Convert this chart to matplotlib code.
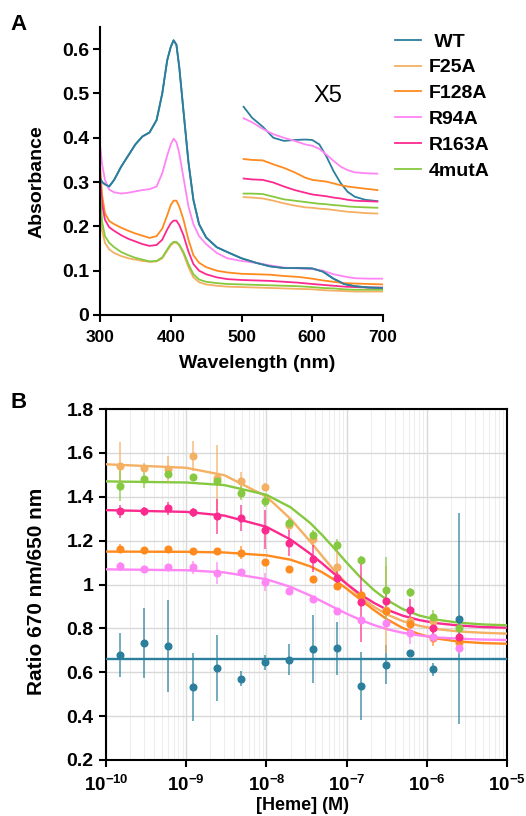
import matplotlib
matplotlib.use('Agg')
import matplotlib.pyplot as plt
from matplotlib.ticker import FixedLocator, LogLocator, NullFormatter

# ---------------- panel A : absorbance spectra ----------------
wavelength = [300, 303, 307, 313, 320, 330, 340, 350, 360, 370, 380, 388, 395, 400, 404, 408,
              412, 418, 425, 432, 440, 450, 465, 480, 500, 520, 540, 560, 580, 600, 615, 630,
              645, 660, 680, 700]
abs_wt = [0.31, 0.30, 0.295, 0.29, 0.305, 0.335, 0.36, 0.385, 0.403, 0.412, 0.44, 0.50, 0.575,
          0.605, 0.62, 0.61, 0.56, 0.46, 0.345, 0.26, 0.205, 0.175, 0.153, 0.142, 0.128, 0.118,
          0.11, 0.106, 0.106, 0.105, 0.098, 0.082, 0.07, 0.065, 0.062, 0.061]
abs_f25a = [0.26, 0.19, 0.163, 0.148, 0.14, 0.133, 0.128, 0.125, 0.122, 0.12, 0.121, 0.128, 0.145,
            0.157, 0.163, 0.163, 0.157, 0.138, 0.108, 0.085, 0.074, 0.069, 0.066, 0.064, 0.063,
            0.062, 0.061, 0.06, 0.059, 0.058, 0.056, 0.055, 0.054, 0.053, 0.053, 0.053]
abs_f128a = [0.34, 0.27, 0.23, 0.212, 0.205, 0.197, 0.19, 0.184, 0.179, 0.174, 0.178, 0.195, 0.225,
             0.248, 0.258, 0.258, 0.245, 0.215, 0.17, 0.135, 0.118, 0.108, 0.1, 0.096, 0.093,
             0.092, 0.091, 0.088, 0.086, 0.082, 0.078, 0.075, 0.072, 0.071, 0.07, 0.069]
abs_r94a = [0.385, 0.34, 0.305, 0.283, 0.277, 0.274, 0.276, 0.279, 0.282, 0.284, 0.29, 0.32, 0.36,
            0.385, 0.398, 0.39, 0.365, 0.31, 0.245, 0.205, 0.178, 0.16, 0.14, 0.128, 0.122,
            0.118, 0.112, 0.107, 0.105, 0.104, 0.1, 0.092, 0.087, 0.083, 0.082, 0.082]
abs_r163a = [0.31, 0.25, 0.215, 0.198, 0.19, 0.18, 0.172, 0.166, 0.16, 0.156, 0.158, 0.17, 0.193,
             0.207, 0.213, 0.213, 0.203, 0.18, 0.143, 0.115, 0.1, 0.092, 0.085, 0.081, 0.079,
             0.078, 0.077, 0.075, 0.073, 0.07, 0.068, 0.066, 0.064, 0.063, 0.062, 0.062]
abs_4muta = [0.28, 0.21, 0.178, 0.163, 0.153, 0.142, 0.135, 0.129, 0.125, 0.121, 0.122, 0.13, 0.148,
             0.16, 0.165, 0.165, 0.159, 0.142, 0.115, 0.092, 0.08, 0.075, 0.072, 0.07, 0.069,
             0.068, 0.067, 0.066, 0.065, 0.063, 0.061, 0.06, 0.058, 0.057, 0.057, 0.057]

# X5 magnified segment
wavelength_x5 = [503, 515, 530, 545, 560, 575, 590, 600, 610, 620, 630, 640, 650, 660, 675, 692]
x5_wt = [0.47, 0.445, 0.425, 0.40, 0.393, 0.395, 0.396, 0.395, 0.385, 0.358, 0.325, 0.298, 0.278,
         0.267, 0.26, 0.257]
x5_f25a = [0.266, 0.265, 0.263, 0.258, 0.252, 0.247, 0.243, 0.242, 0.24, 0.239, 0.237, 0.235, 0.233,
           0.232, 0.23, 0.229]
x5_f128a = [0.352, 0.35, 0.349, 0.34, 0.332, 0.322, 0.31, 0.305, 0.303, 0.301, 0.297, 0.293, 0.29,
            0.288, 0.285, 0.282]
x5_r94a = [0.444, 0.435, 0.42, 0.408, 0.40, 0.393, 0.385, 0.382, 0.375, 0.362, 0.348, 0.335, 0.327,
           0.322, 0.32, 0.319]
x5_r163a = [0.308, 0.306, 0.305, 0.299, 0.29, 0.282, 0.276, 0.272, 0.27, 0.268, 0.265, 0.263, 0.26,
            0.258, 0.257, 0.256]
x5_4muta = [0.274, 0.274, 0.273, 0.267, 0.261, 0.258, 0.255, 0.253, 0.251, 0.25, 0.248, 0.247, 0.245,
            0.244, 0.243, 0.242]

variants = ['WT', 'F25A', 'F128A', 'R94A', 'R163A', '4mutA']
colors = ['#2b7f9c', '#f4b063', '#ff8a1e', '#ff85f5', '#fc2a8e', '#86c940']

a_xticks = [300, 400, 500, 600, 700]
a_yticks = [0, 0.1, 0.2, 0.3, 0.4, 0.5, 0.6]
a_ylabels = ['0', '0.1', '0.2', '0.3', '0.4', '0.5', '0.6']

# ---------------- panel B : heme titration ----------------
heme = [1.5e-10, 3e-10, 6e-10, 1.2e-9, 2.4e-9, 4.8e-9, 9.6e-9, 1.9e-8, 3.8e-8, 7.7e-8,
        1.5e-7, 3.1e-7, 6.1e-7, 1.2e-6, 2.5e-6]
ratio_wt = [0.68, 0.733, 0.718, 0.533, 0.621, 0.571, 0.645, 0.658, 0.705, 0.709, 0.538, 0.635,
            0.686, 0.614, 0.844]
err_wt = [0.10, 0.16, 0.21, 0.155, 0.15, 0.035, 0.035, 0.07, 0.155, 0.12, 0.155, 0.09, 0.0, 0.03, 0.48]
ratio_f25a = [1.538, 1.533, 1.526, 1.586, 1.486, 1.474, 1.444, 1.273, 1.207, 1.079, 0.951, 0.886,
              0.833, 0.833, 0.735]
err_f25a = [0.11, 0.02, 0.06, 0.07, 0.15, 0.04, 0.02, 0.03, 0.03, 0.09, 0.03, 0.2, 0.05, 0.03, 0.03]
ratio_f128a = [1.164, 1.159, 1.164, 1.151, 1.151, 1.144, 1.102, 1.071, 1.026, 0.992, 0.95, 0.88,
               0.82, 0.758, 0.742]
err_f128a = [0.02, 0.01, 0.01, 0.01, 0.01, 0.03, 0.01, 0.01, 0.01, 0.01, 0.02, 0.02, 0.02, 0.04, 0.01]
ratio_r94a = [1.083, 1.071, 1.079, 1.079, 1.053, 1.058, 1.012, 0.97, 0.932, 0.879, 0.838, 0.826,
              0.78, 0.76, 0.712]
err_r94a = [0.02, 0.01, 0.01, 0.03, 0.05, 0.01, 0.04, 0.01, 0.01, 0.01, 0.01, 0.02, 0.05, 0.02, 0.03]
ratio_r163a = [1.333, 1.333, 1.348, 1.329, 1.311, 1.303, 1.25, 1.189, 1.118, 1.03, 0.92, 0.927,
               0.886, 0.803, 0.76]
err_r163a = [0.03, 0.02, 0.03, 0.02, 0.08, 0.06, 0.09, 0.06, 0.06, 0.03, 0.18, 0.05, 0.05, 0.04, 0.02]
ratio_4muta = [1.45, 1.482, 1.505, 1.491, 1.47, 1.417, 1.382, 1.28, 1.227, 1.179, 1.112, 0.974,
               0.965, 0.853, 0.80]
err_4muta = [0.07, 0.04, 0.02, 0.01, 0.02, 0.03, 0.03, 0.02, 0.02, 0.03, 0.02, 0.15, 0.02, 0.03, 0.0]

# fitted curves
heme_fit = [1e-10, 1e-9, 3e-9, 1e-8, 2e-8, 3.5e-8, 5e-8, 7e-8, 1e-7, 1.5e-7, 2.2e-7, 3.2e-7,
            5e-7, 8e-7, 1.3e-6, 2.5e-6, 5e-6, 1e-5]
fit_wt = [0.66] * len(heme_fit)
fit_f25a = [1.548, 1.532, 1.498, 1.401, 1.299, 1.197, 1.128, 1.064, 1.003, 0.943, 0.898, 0.863,
            0.833, 0.812, 0.797, 0.786, 0.780, 0.776]
fit_f128a = [1.150, 1.149, 1.146, 1.133, 1.113, 1.083, 1.055, 1.022, 0.981, 0.930, 0.883, 0.841,
             0.802, 0.774, 0.754, 0.740, 0.733, 0.730]
fit_r94a = [1.069, 1.065, 1.055, 1.024, 0.989, 0.950, 0.922, 0.895, 0.867, 0.838, 0.815, 0.796,
            0.780, 0.768, 0.759, 0.753, 0.749, 0.747]
fit_r163a = [1.339, 1.331, 1.314, 1.263, 1.205, 1.141, 1.095, 1.049, 1.003, 0.954, 0.916, 0.885,
             0.858, 0.838, 0.824, 0.813, 0.806, 0.803]
fit_4muta = [1.470, 1.465, 1.453, 1.409, 1.352, 1.281, 1.224, 1.165, 1.100, 1.031, 0.974, 0.929,
             0.888, 0.859, 0.840, 0.826, 0.818, 0.814]

b_yticks = [0.2, 0.4, 0.6, 0.8, 1.0, 1.2, 1.4, 1.6, 1.8]
b_ylabels = ['0.2', '0.4', '0.6', '0.8', '1', '1.2', '1.4', '1.6', '1.8']
b_xticks = [1e-10, 1e-9, 1e-8, 1e-7, 1e-6, 1e-5]
b_xlabels = [r'$10^{-10}$', r'$10^{-9}$', r'$10^{-8}$', r'$10^{-7}$', r'$10^{-6}$', r'$10^{-5}$']

plt.rcParams['font.family'] = ['Liberation Sans', 'DejaVu Sans']
plt.rcParams['font.weight'] = 'bold'
plt.rcParams['mathtext.fontset'] = 'custom'
plt.rcParams['mathtext.rm'] = 'Liberation Sans:bold'
plt.rcParams['mathtext.bf'] = 'Liberation Sans:bold'
plt.rcParams['mathtext.default'] = 'rm'

fig = plt.figure(figsize=(5.26, 8.16), dpi=100)
W, H = 526, 816

def px_axes(l, t, r, b):
    return fig.add_axes([l / W, 1 - b / H, (r - l) / W, (b - t) / H])

# ================= PANEL A =================
axA = px_axes(100, 27, 383, 315)
main_series = [abs_wt, abs_f25a, abs_f128a, abs_r94a, abs_r163a, abs_4muta]
x5_series = [x5_wt, x5_f25a, x5_f128a, x5_r94a, x5_r163a, x5_4muta]
handles = []
for name, col, ys in zip(variants, colors, main_series):
    h, = axA.plot(wavelength, ys, color=col, lw=1.3, label=name)
    handles.append(h)
for col, ys in zip(colors, x5_series):
    axA.plot(wavelength_x5, ys, color=col, lw=1.3)
axA.plot(wavelength, abs_wt, color=colors[0], lw=1.3)

axA.set_xlim(300, 700)
axA.set_ylim(0, 0.65)
axA.set_xticks(a_xticks)
axA.set_yticks(a_yticks)
axA.set_yticklabels(a_ylabels)
axA.spines['top'].set_visible(False)
axA.spines['right'].set_visible(False)
for s in ['left', 'bottom']:
    axA.spines[s].set_linewidth(1.5)
axA.tick_params(direction='out', length=5, width=1.5, labelsize=14, pad=3)
axA.tick_params(axis='x', labelsize=12.5, pad=6)
axA.text(622, 0.495, 'X5', fontsize=17, fontweight='normal', ha='center', va='center')

fig.text(257 / W, 1 - 364 / H, 'Wavelength (nm)', fontsize=14, ha='center', va='center')
fig.text(37 / W, 1 - 182 / H, 'Absorbance', fontsize=14, rotation=90, ha='center', va='center')
fig.text(10 / W, 1 - 25 / H, 'A', fontsize=16, ha='left', va='center')

leg_labels = [' WT'] + variants[1:]
fig.legend(handles, leg_labels, loc='upper left', bbox_to_anchor=(395 / W, 1 - 33 / H),
           frameon=False, fontsize=14, handlelength=1.35, handletextpad=0.4,
           labelspacing=0.42, borderpad=0, borderaxespad=0)

# ================= PANEL B =================
axB = px_axes(106, 409, 507, 760)
axB.set_xscale('log')
axB.set_xlim(1e-10, 1e-5)
axB.set_ylim(0.2, 1.8)

axB.grid(which='major', color='#d9d9d9', lw=1.0)
axB.xaxis.set_minor_locator(LogLocator(base=10, subs=[2, 3, 4, 5, 6, 7, 8, 9], numticks=20))
axB.xaxis.set_minor_formatter(NullFormatter())
axB.grid(which='minor', axis='x', color='#eeeeee', lw=0.8)
axB.set_axisbelow(True)

fit_series = [fit_wt, fit_f25a, fit_f128a, fit_r94a, fit_r163a, fit_4muta]
pt_series = [ratio_wt, ratio_f25a, ratio_f128a, ratio_r94a, ratio_r163a, ratio_4muta]
err_series = [err_wt, err_f25a, err_f128a, err_r94a, err_r163a, err_4muta]

for col, fy in zip(colors, fit_series):
    axB.plot(heme_fit, fy, color=col, lw=1.7, zorder=3)
for col, ys, es in zip(colors, pt_series, err_series):
    ln, caps, bars = axB.errorbar(heme, ys, yerr=es, fmt='o', color=col, ms=4.8,
                                  ecolor=col, elinewidth=1.3, capsize=0, zorder=4)
    for b in bars:
        b.set_alpha(0.7)

axB.xaxis.set_major_locator(FixedLocator(b_xticks))
axB.set_xticklabels(b_xlabels)
axB.set_yticks(b_yticks)
axB.set_yticklabels(b_ylabels)
for s in axB.spines.values():
    s.set_linewidth(1.5)
axB.tick_params(which='major', direction='out', length=5, width=1.5, labelsize=14, pad=4)
axB.tick_params(axis='x', which='major', labelsize=13.5, pad=6)
axB.tick_params(which='minor', length=0)

fig.text(302 / W, 1 - 805 / H, '[Heme] (M)', fontsize=13, ha='center', va='center')
fig.text(37 / W, 1 - 591 / H, 'Ratio 670 nm/650 nm', fontsize=15, rotation=90,
         ha='center', va='center')
fig.text(10 / W, 1 - 402 / H, 'B', fontsize=16, ha='left', va='center')

fig.savefig('out.png', dpi=100)
